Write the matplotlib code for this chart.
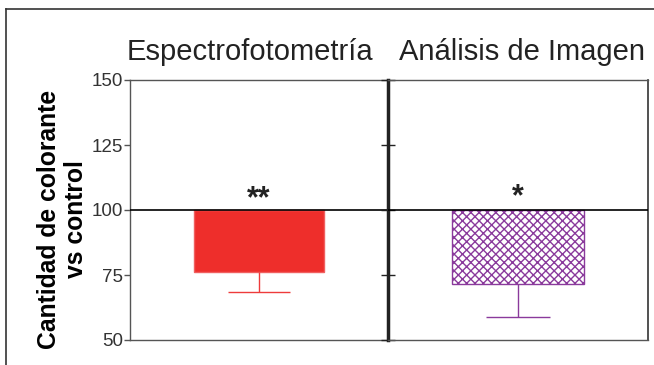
import matplotlib
matplotlib.use("Agg")
import matplotlib.pyplot as plt
from matplotlib.lines import Line2D

plt.rcParams['font.family'] = ['Liberation Sans', 'DejaVu Sans']

methods = ['Espectrofotometría', 'Análisis de Imagen']
values = [76.0, 71.5]          # % vs control
errors = [7.6, 12.8]           # lower error only
stars = ['**', '*']
yticks = [50, 75, 100, 125, 150]

fig = plt.figure(figsize=(6.54, 3.65), dpi=100)
ax1 = fig.add_axes([130/654, 25/365, 258/654, 260/365])
ax2 = fig.add_axes([388/654, 25/365, 260/654, 260/365], sharey=ax1)

# outer frame (top and left only visible)
fig.add_artist(Line2D([6/654, 1.0], [1 - 9/365, 1 - 9/365], color='#333333', lw=1.2))
fig.add_artist(Line2D([6/654, 6/654], [0, 1 - 9/365], color='#333333', lw=1.2))

styles = [
    dict(color='#EE2E2B', edgecolor='#F06060', hatch=None),
    dict(color='white', edgecolor='#8A3A9C', hatch='xxxx'),
]
errcolors = ['#EE3B3B', '#8A3A9C']
title_x = [0.465, 0.515]
star_y = [98.2, 99.3]

for ax, name, v, e, st, s, ec, tx, sy in zip([ax1, ax2], methods, values, errors,
                                               styles, stars, errcolors, title_x, star_y):
    ax.set_xlim(0, 1)
    ax.set_ylim(50, 150)
    ax.axhline(100, color='black', lw=1.2, zorder=3)
    ax.bar(0.5, v - 100, bottom=100, width=0.507, color=st['color'],
           edgecolor=st['edgecolor'], hatch=st['hatch'], lw=1.0, zorder=2)
    # lower error bar only
    ax.vlines(0.5, v - e, v, color=ec, lw=1.0, zorder=2)
    ax.hlines(v - e, 0.5 - 0.122, 0.5 + 0.122, color=ec, lw=1.0, zorder=2)
    ax.text(0.5, sy, s, ha='center', va='bottom', fontsize=22,
            fontweight='semibold', color='#222222')
    ax.text(tx, 1.077, name, transform=ax.transAxes, ha='center',
            va='baseline', fontsize=21, color='#222222')
    ax.set_xticks([])
    for sp in ['top', 'bottom']:
        ax.spines[sp].set_color('#555555')
        ax.spines[sp].set_linewidth(1.0)

ax1.set_yticks(yticks)
ax1.tick_params(axis='y', direction='out', length=4, width=1,
                color='#555555', labelsize=13.5, labelcolor='#333333', pad=1)
ax1.spines['left'].set_color('#555555')
ax1.spines['left'].set_linewidth(1.0)
ax1.spines['right'].set_visible(False)
ax1.set_ylabel('Cantidad de colorante\nvs control', fontsize=17.8,
               fontweight='bold', linespacing=1.2)
ax1.yaxis.label.set_va('center')
ax1.yaxis.set_label_coords(-0.262, 0.465)

ax2.spines['left'].set_color('#222222')
ax2.spines['left'].set_linewidth(2.5)
ax2.spines['right'].set_color('#333333')
ax2.spines['right'].set_linewidth(1.2)
ax2.tick_params(axis='y', direction='inout', length=10, width=1,
                color='#222222', labelleft=False)

fig.savefig('out.png', dpi=100)
